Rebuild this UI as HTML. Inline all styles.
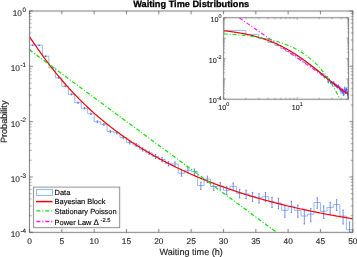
<!DOCTYPE html>
<html><head><meta charset="utf-8"><style>
html,body{margin:0;padding:0;background:#fff;width:357px;height:257px;overflow:hidden;position:relative;}
text{font-family:"Liberation Sans",sans-serif;text-rendering:geometricPrecision;}
svg{will-change:transform;}
</style></head><body>
<svg width="357" height="257" viewBox="0 0 357 257" style="position:absolute;left:0;top:0">
<defs><filter id="bl" filterUnits="userSpaceOnUse" x="0" y="0" width="357" height="257"><feConvolveMatrix order="3" kernelMatrix="0.0049 0.0602 0.0049 0.0602 0.7396 0.0602 0.0049 0.0602 0.0049" edgeMode="duplicate" preserveAlpha="false"/></filter><clipPath id="cm"><rect x="29.5" y="11.0" width="323.3" height="221.3"/></clipPath>
<clipPath id="ci"><rect x="223.7" y="17.8" width="124.80000000000001" height="81.4"/></clipPath></defs>
<g>
<g clip-path="url(#cm)"><path d="M29.50,45.20 L35.97,45.20 L35.97,45.20 L42.43,45.20 L42.43,56.20 L48.90,56.20 L48.90,67.90 L55.36,67.90 L55.36,77.90 L61.83,77.90 L61.83,86.30 L68.30,86.30 L68.30,94.40 L74.76,94.40 L74.76,102.70 L81.23,102.70 L81.23,108.30 L87.69,108.30 L87.69,113.80 L94.16,113.80 L94.16,121.80 L100.63,121.80 L100.63,124.40 L107.09,124.40 L107.09,131.60 L113.56,131.60 L113.56,132.80 L120.02,132.80 L120.02,137.50 L126.49,137.50 L126.49,142.50 L132.96,142.50 L132.96,145.00 L139.42,145.00 L139.42,149.30 L145.89,149.30 L145.89,152.80 L152.35,152.80 L152.35,156.50 L158.82,156.50 L158.82,159.50 L165.29,159.50 L165.29,163.60 L171.75,163.60 L171.75,164.00 L178.22,164.00 L178.22,173.20 L184.68,173.20 L184.68,170.20 L191.15,170.20 L191.15,171.50 L197.62,171.50 L197.62,185.60 L204.08,185.60 L204.08,179.10 L210.55,179.10 L210.55,186.50 L217.01,186.50 L217.01,186.00 L223.48,186.00 L223.48,190.30 L229.95,190.30 L229.95,186.30 L236.41,186.30 L236.41,193.30 L242.88,193.30 L242.88,194.00 L249.34,194.00 L249.34,196.50 L255.81,196.50 L255.81,198.00 L262.28,198.00 L262.28,196.60 L268.74,196.60 L268.74,201.90 L275.21,201.90 L275.21,203.00 L281.67,203.00 L281.67,210.40 L288.14,210.40 L288.14,206.20 L294.61,206.20 L294.61,210.40 L301.07,210.40 L301.07,216.00 L307.54,216.00 L307.54,214.20 L314.00,214.20 L314.00,202.50 L320.47,202.50 L320.47,211.30 L326.94,211.30 L326.94,207.40 L333.40,207.40 L333.40,204.50 L339.87,204.50 L339.87,216.10 L346.33,216.10 L346.33,229.70 L352.80,229.70" fill="none" stroke="#82b6e6" stroke-width="0.9"/><path d="M32.73,45.01 V45.39 M32.03,45.01 H33.43 M32.03,45.39 H33.43 M39.20,45.01 V45.39 M38.50,45.01 H39.90 M38.50,45.39 H39.90 M45.66,55.96 V56.44 M44.96,55.96 H46.37 M44.96,56.44 H46.37 M52.13,67.59 V68.21 M51.43,67.59 H52.83 M51.43,68.21 H52.83 M58.60,77.52 V78.29 M57.90,77.52 H59.30 M57.90,78.29 H59.30 M65.06,85.85 V86.76 M64.36,85.85 H65.76 M64.36,86.76 H65.76 M71.53,93.87 V94.94 M70.83,93.87 H72.23 M70.83,94.94 H72.23 M78.00,102.07 V103.35 M77.30,102.07 H78.70 M77.30,103.35 H78.70 M84.46,107.59 V109.03 M83.76,107.59 H85.16 M83.76,109.03 H85.16 M90.93,113.01 V114.62 M90.23,113.01 H91.63 M90.23,114.62 H91.63 M97.39,120.87 V122.77 M96.69,120.87 H98.09 M96.69,122.77 H98.09 M103.86,123.41 V125.43 M103.16,123.41 H104.56 M103.16,125.43 H104.56 M110.33,130.46 V132.80 M109.62,130.46 H111.03 M109.62,132.80 H111.03 M116.79,131.63 V134.03 M116.09,131.63 H117.49 M116.09,134.03 H117.49 M123.26,136.21 V138.86 M122.56,136.21 H123.96 M122.56,138.86 H123.96 M129.72,141.08 V144.01 M129.02,141.08 H130.42 M129.02,144.01 H130.42 M136.19,143.50 V146.60 M135.49,143.50 H136.89 M135.49,146.60 H136.89 M142.66,147.67 V151.05 M141.96,147.67 H143.35 M141.96,151.05 H143.35 M149.12,151.05 V154.69 M148.42,151.05 H149.82 M148.42,154.69 H149.82 M155.59,154.61 V158.55 M154.89,154.61 H156.29 M154.89,158.55 H156.29 M162.05,157.50 V161.68 M161.35,157.50 H162.75 M161.35,161.68 H162.75 M168.52,161.43 V165.99 M167.82,161.43 H169.22 M167.82,165.99 H169.22 M174.99,161.81 V166.41 M174.29,161.81 H175.69 M174.29,166.41 H175.69 M181.45,170.57 V176.15 M180.75,170.57 H182.15 M180.75,176.15 H182.15 M187.92,167.72 V172.96 M187.22,167.72 H188.62 M187.22,172.96 H188.62 M194.38,168.96 V174.34 M193.68,168.96 H195.08 M193.68,174.34 H195.08 M200.85,182.25 V189.49 M200.15,182.25 H201.55 M200.15,189.49 H201.55 M207.31,176.15 V182.46 M206.62,176.15 H208.01 M206.62,182.46 H208.01 M213.78,183.09 V190.47 M213.08,183.09 H214.48 M213.08,190.47 H214.48 M220.25,182.62 V189.93 M219.55,182.62 H220.95 M219.55,189.93 H220.95 M226.71,186.63 V194.63 M226.01,186.63 H227.41 M226.01,194.63 H227.41 M233.18,182.90 V190.25 M232.48,182.90 H233.88 M232.48,190.25 H233.88 M239.65,189.41 V197.94 M238.95,189.41 H240.34 M238.95,197.94 H240.34 M246.11,190.06 V198.71 M245.41,190.06 H246.81 M245.41,198.71 H246.81 M252.58,192.37 V201.49 M251.88,192.37 H253.28 M251.88,201.49 H253.28 M259.04,193.75 V203.17 M258.34,193.75 H259.74 M258.34,203.17 H259.74 M265.51,192.46 V201.61 M264.81,192.46 H266.21 M264.81,201.61 H266.21 M271.98,197.32 V207.56 M271.28,197.32 H272.68 M271.28,207.56 H272.68 M278.44,198.32 V208.81 M277.74,198.32 H279.14 M277.74,208.81 H279.14 M284.91,205.03 V217.33 M284.21,205.03 H285.61 M284.21,217.33 H285.61 M291.37,201.23 V212.47 M290.67,201.23 H292.07 M290.67,212.47 H292.07 M297.84,205.03 V217.33 M297.14,205.03 H298.54 M297.14,217.33 H298.54 M304.31,210.04 V223.95 M303.61,210.04 H305.00 M303.61,223.95 H305.00 M310.77,208.43 V221.80 M310.07,208.43 H311.47 M310.07,221.80 H311.47 M317.24,197.87 V208.24 M316.54,197.87 H317.94 M316.54,208.24 H317.94 M323.70,205.84 V218.38 M323.00,205.84 H324.40 M323.00,218.38 H324.40 M330.17,202.32 V213.85 M329.47,202.32 H330.87 M329.47,213.85 H330.87 M336.63,199.69 V210.52 M335.94,199.69 H337.33 M335.94,210.52 H337.33 M343.10,210.13 V224.07 M342.40,210.13 H343.80 M342.40,224.07 H343.80 M349.57,222.06 V240.97 M348.87,222.06 H350.27 M348.87,240.97 H350.27" fill="none" stroke="#4a5cf4" stroke-width="0.7"/><path d="M29.50,36.61 L30.58,38.23 L31.66,39.85 L32.74,41.45 L33.83,43.05 L34.91,44.63 L35.99,46.21 L37.07,47.77 L38.15,49.32 L39.23,50.86 L40.31,52.39 L41.39,53.90 L42.48,55.41 L43.56,56.90 L44.64,58.37 L45.72,59.84 L46.80,61.29 L47.88,62.73 L48.96,64.15 L50.04,65.57 L51.13,66.96 L52.21,68.35 L53.29,69.72 L54.37,71.08 L55.45,72.43 L56.53,73.77 L57.61,75.09 L58.69,76.40 L59.78,77.70 L60.86,78.98 L61.94,80.25 L63.02,81.51 L64.10,82.76 L65.18,84.00 L66.26,85.23 L67.34,86.44 L68.43,87.64 L69.51,88.83 L70.59,90.01 L71.67,91.18 L72.75,92.34 L73.83,93.48 L74.91,94.62 L75.99,95.75 L77.08,96.86 L78.16,97.97 L79.24,99.06 L80.32,100.14 L81.40,101.22 L82.48,102.28 L83.56,103.34 L84.64,104.38 L85.73,105.42 L86.81,106.45 L87.89,107.46 L88.97,108.47 L90.05,109.47 L91.13,110.46 L92.21,111.44 L93.29,112.41 L94.38,113.38 L95.46,114.33 L96.54,115.28 L97.62,116.22 L98.70,117.15 L99.78,118.07 L100.86,118.98 L101.95,119.89 L103.03,120.79 L104.11,121.68 L105.19,122.56 L106.27,123.44 L107.35,124.30 L108.43,125.16 L109.51,126.02 L110.60,126.86 L111.68,127.70 L112.76,128.53 L113.84,129.36 L114.92,130.18 L116.00,130.99 L117.08,131.79 L118.16,132.59 L119.25,133.38 L120.33,134.17 L121.41,134.94 L122.49,135.71 L123.57,136.48 L124.65,137.24 L125.73,137.99 L126.81,138.74 L127.90,139.48 L128.98,140.22 L130.06,140.94 L131.14,141.67 L132.22,142.39 L133.30,143.10 L134.38,143.80 L135.46,144.50 L136.55,145.20 L137.63,145.89 L138.71,146.57 L139.79,147.25 L140.87,147.93 L141.95,148.59 L143.03,149.26 L144.11,149.91 L145.20,150.57 L146.28,151.22 L147.36,151.86 L148.44,152.50 L149.52,153.13 L150.60,153.76 L151.68,154.38 L152.76,155.00 L153.85,155.61 L154.93,156.22 L156.01,156.83 L157.09,157.43 L158.17,158.02 L159.25,158.61 L160.33,159.20 L161.42,159.78 L162.50,160.36 L163.58,160.94 L164.66,161.51 L165.74,162.07 L166.82,162.63 L167.90,163.19 L168.98,163.74 L170.07,164.29 L171.15,164.84 L172.23,165.38 L173.31,165.91 L174.39,166.45 L175.47,166.98 L176.55,167.50 L177.63,168.02 L178.72,168.54 L179.80,169.05 L180.88,169.56 L181.96,170.07 L183.04,170.57 L184.12,171.07 L185.20,171.57 L186.28,172.06 L187.37,172.55 L188.45,173.04 L189.53,173.52 L190.61,174.00 L191.69,174.47 L192.77,174.94 L193.85,175.41 L194.93,175.88 L196.02,176.34 L197.10,176.80 L198.18,177.25 L199.26,177.71 L200.34,178.15 L201.42,178.60 L202.50,179.04 L203.58,179.48 L204.67,179.92 L205.75,180.35 L206.83,180.78 L207.91,181.21 L208.99,181.64 L210.07,182.06 L211.15,182.48 L212.23,182.89 L213.32,183.30 L214.40,183.72 L215.48,184.12 L216.56,184.53 L217.64,184.93 L218.72,185.33 L219.80,185.72 L220.88,186.12 L221.97,186.51 L223.05,186.90 L224.13,187.28 L225.21,187.67 L226.29,188.05 L227.37,188.42 L228.45,188.80 L229.54,189.17 L230.62,189.54 L231.70,189.91 L232.78,190.28 L233.86,190.64 L234.94,191.00 L236.02,191.36 L237.10,191.71 L238.19,192.06 L239.27,192.42 L240.35,192.76 L241.43,193.11 L242.51,193.45 L243.59,193.79 L244.67,194.13 L245.75,194.47 L246.84,194.80 L247.92,195.14 L249.00,195.47 L250.08,195.79 L251.16,196.12 L252.24,196.44 L253.32,196.77 L254.40,197.08 L255.49,197.40 L256.57,197.72 L257.65,198.03 L258.73,198.34 L259.81,198.65 L260.89,198.96 L261.97,199.26 L263.05,199.56 L264.14,199.86 L265.22,200.16 L266.30,200.46 L267.38,200.75 L268.46,201.04 L269.54,201.34 L270.62,201.62 L271.70,201.91 L272.79,202.20 L273.87,202.48 L274.95,202.76 L276.03,203.04 L277.11,203.32 L278.19,203.59 L279.27,203.87 L280.35,204.14 L281.44,204.41 L282.52,204.68 L283.60,204.94 L284.68,205.21 L285.76,205.47 L286.84,205.73 L287.92,205.99 L289.01,206.25 L290.09,206.51 L291.17,206.76 L292.25,207.01 L293.33,207.26 L294.41,207.51 L295.49,207.76 L296.57,208.01 L297.66,208.25 L298.74,208.49 L299.82,208.74 L300.90,208.97 L301.98,209.21 L303.06,209.45 L304.14,209.68 L305.22,209.92 L306.31,210.15 L307.39,210.38 L308.47,210.61 L309.55,210.83 L310.63,211.06 L311.71,211.28 L312.79,211.51 L313.87,211.73 L314.96,211.95 L316.04,212.17 L317.12,212.38 L318.20,212.60 L319.28,212.81 L320.36,213.02 L321.44,213.23 L322.52,213.44 L323.61,213.65 L324.69,213.86 L325.77,214.06 L326.85,214.27 L327.93,214.47 L329.01,214.67 L330.09,214.87 L331.17,215.07 L332.26,215.27 L333.34,215.46 L334.42,215.66 L335.50,215.85 L336.58,216.04 L337.66,216.23 L338.74,216.42 L339.82,216.61 L340.91,216.79 L341.99,216.98 L343.07,217.16 L344.15,217.35 L345.23,217.53 L346.31,217.71 L347.39,217.89 L348.47,218.07 L349.56,218.24 L350.64,218.42 L351.72,218.59 L352.80,218.76" fill="none" stroke="#ff0000" stroke-width="1.2"/><path d="M29.50,49.89 L352.80,288.62" fill="none" stroke="#12e012" stroke-width="1.25" stroke-dasharray="4 1.95 1 1.93" stroke-dashoffset="0.26"/></g>
<path filter="url(#bl)" d="M29.50,232.30 V229.00 M29.50,11.00 V14.30 M61.83,232.30 V229.00 M61.83,11.00 V14.30 M94.16,232.30 V229.00 M94.16,11.00 V14.30 M126.49,232.30 V229.00 M126.49,11.00 V14.30 M158.82,232.30 V229.00 M158.82,11.00 V14.30 M191.15,232.30 V229.00 M191.15,11.00 V14.30 M223.48,232.30 V229.00 M223.48,11.00 V14.30 M255.81,232.30 V229.00 M255.81,11.00 V14.30 M288.14,232.30 V229.00 M288.14,11.00 V14.30 M320.47,232.30 V229.00 M320.47,11.00 V14.30 M352.80,232.30 V229.00 M352.80,11.00 V14.30 M29.50,11.00 H32.80 M352.80,11.00 H349.50 M29.50,66.33 H32.80 M352.80,66.33 H349.50 M29.50,121.65 H32.80 M352.80,121.65 H349.50 M29.50,176.98 H32.80 M352.80,176.98 H349.50 M29.50,232.30 H32.80 M352.80,232.30 H349.50" fill="none" stroke="#5a5a5a" stroke-width="0.8"/>
<path filter="url(#bl)" d="M29.50,49.67 H31.50 M352.80,49.67 H350.80 M29.50,39.93 H31.50 M352.80,39.93 H350.80 M29.50,33.02 H31.50 M352.80,33.02 H350.80 M29.50,27.65 H31.50 M352.80,27.65 H350.80 M29.50,23.27 H31.50 M352.80,23.27 H350.80 M29.50,19.57 H31.50 M352.80,19.57 H350.80 M29.50,16.36 H31.50 M352.80,16.36 H350.80 M29.50,13.53 H31.50 M352.80,13.53 H350.80 M29.50,105.00 H31.50 M352.80,105.00 H350.80 M29.50,95.25 H31.50 M352.80,95.25 H350.80 M29.50,88.34 H31.50 M352.80,88.34 H350.80 M29.50,82.98 H31.50 M352.80,82.98 H350.80 M29.50,78.60 H31.50 M352.80,78.60 H350.80 M29.50,74.89 H31.50 M352.80,74.89 H350.80 M29.50,71.69 H31.50 M352.80,71.69 H350.80 M29.50,68.86 H31.50 M352.80,68.86 H350.80 M29.50,160.32 H31.50 M352.80,160.32 H350.80 M29.50,150.58 H31.50 M352.80,150.58 H350.80 M29.50,143.67 H31.50 M352.80,143.67 H350.80 M29.50,138.30 H31.50 M352.80,138.30 H350.80 M29.50,133.92 H31.50 M352.80,133.92 H350.80 M29.50,130.22 H31.50 M352.80,130.22 H350.80 M29.50,127.01 H31.50 M352.80,127.01 H350.80 M29.50,124.18 H31.50 M352.80,124.18 H350.80 M29.50,215.65 H31.50 M352.80,215.65 H350.80 M29.50,205.90 H31.50 M352.80,205.90 H350.80 M29.50,198.99 H31.50 M352.80,198.99 H350.80 M29.50,193.63 H31.50 M352.80,193.63 H350.80 M29.50,189.25 H31.50 M352.80,189.25 H350.80 M29.50,185.54 H31.50 M352.80,185.54 H350.80 M29.50,182.34 H31.50 M352.80,182.34 H350.80 M29.50,179.51 H31.50 M352.80,179.51 H350.80" fill="none" stroke="#5a5a5a" stroke-width="0.6"/>
<rect filter="url(#bl)" x="29.5" y="11.0" width="323.30" height="221.30" fill="none" stroke="#5a5a5a" stroke-width="0.8"/>
<rect x="33.6" y="187.1" width="86.10" height="40.60" fill="#fff"/><rect filter="url(#bl)" x="33.6" y="187.1" width="86.10" height="40.60" fill="none" stroke="#6e6e6e" stroke-width="0.8"/><rect x="36.5" y="189.6" width="16" height="5.8" fill="#fcfeff" stroke="#82b6e6" stroke-width="0.9"/><path d="M36,201.6 H52.5" stroke="#ff0000" stroke-width="1.5"/><path d="M36.4,210.8 H52.5" stroke="#12e012" stroke-width="1.3" stroke-dasharray="4 1.95 1 1.93"/><path d="M36.4,221.5 H52.5" stroke="#ff10ff" stroke-width="1.3" stroke-dasharray="4 1.95 1 1.93"/>
<rect x="223.7" y="17.8" width="124.80" height="81.40" fill="#fff"/><g clip-path="url(#ci)"><path d="M223.70,30.38 L245.81,30.38 L245.81,34.43 L258.75,34.43 L258.75,38.73 L267.93,38.73 L267.93,42.41 L275.04,42.41 L275.04,45.50 L280.86,45.50 L280.86,48.48 L285.78,48.48 L285.78,51.53 L290.04,51.53 L290.04,53.59 L293.80,53.59 L293.80,55.61 L297.16,55.61 L297.16,58.56 L300.20,58.56 L300.20,59.51 L302.97,59.51 L302.97,62.16 L305.53,62.16 L305.53,62.60 L307.89,62.60 L307.89,64.33 L310.09,64.33 L310.09,66.17 L312.15,66.17 L312.15,67.09 L314.08,67.09 L314.08,68.67 L315.91,68.67 L315.91,69.96 L317.63,69.96 L317.63,71.32 L319.27,71.32 L319.27,72.42 L320.83,72.42 L320.83,73.93 L322.31,73.93 L322.31,74.08 L323.73,74.08 L323.73,77.46 L325.09,77.46 L325.09,76.36 L326.39,76.36 L326.39,76.84 L327.64,76.84 L327.64,82.02 L328.84,82.02 L328.84,79.63 L330.00,79.63 L330.00,82.35 L331.12,82.35 L331.12,82.17 L332.20,82.17 L332.20,83.75 L333.25,83.75 L333.25,82.28 L334.26,82.28 L334.26,84.85 L335.24,84.85 L335.24,85.11 L336.20,85.11 L336.20,86.03 L337.12,86.03 L337.12,86.58 L338.02,86.58 L338.02,86.07 L338.89,86.07 L338.89,88.02 L339.75,88.02 L339.75,88.42 L340.57,88.42 L340.57,91.14 L341.38,91.14 L341.38,89.60 L342.17,89.60 L342.17,91.14 L342.94,91.14 L342.94,93.20 L343.69,93.20 L343.69,92.54 L344.42,92.54 L344.42,88.24 L345.14,88.24 L345.14,91.48 L345.84,91.48 L345.84,90.04 L346.53,90.04 L346.53,88.97 L347.20,88.97 L347.20,93.24 L347.86,93.24 L347.86,98.24 L348.50,98.24" fill="none" stroke="#82b6e6" stroke-width="0.9"/><path d="M236.64,30.31 V30.45 M252.93,34.34 V34.52 M263.67,38.62 V38.84 M271.68,42.27 V42.55 M278.08,45.33 V45.67 M283.41,48.28 V48.68 M287.98,51.30 V51.77 M291.97,53.33 V53.86 M295.52,55.32 V55.91 M298.71,58.21 V58.91 M301.61,59.15 V59.89 M304.27,61.74 V62.60 M306.73,62.17 V63.05 M309.01,63.86 V64.83 M311.14,65.65 V66.73 M313.13,66.54 V67.68 M315.01,68.07 V69.31 M316.78,69.31 V70.65 M318.46,70.63 V72.07 M320.06,71.69 V73.23 M321.58,73.13 V74.81 M323.03,73.27 V74.96 M324.41,76.50 V78.55 M325.74,75.45 V77.37 M327.02,75.90 V77.88 M328.25,80.79 V83.45 M329.43,78.55 V80.87 M330.57,81.10 V83.81 M331.67,80.93 V83.61 M332.73,82.40 V85.34 M333.76,81.03 V83.73 M334.76,83.43 V86.56 M335.72,83.66 V86.85 M336.66,84.51 V87.87 M337.57,85.02 V88.49 M338.46,84.55 V87.91 M339.32,86.33 V90.10 M340.16,86.70 V90.56 M340.98,89.17 V93.69 M341.78,87.77 V91.91 M342.56,89.17 V93.69 M343.32,91.01 V96.13 M344.06,90.42 V95.34 M344.78,86.54 V90.35 M345.49,89.47 V94.08 M346.18,88.17 V92.41 M346.86,87.21 V91.19 M347.53,91.04 V96.17 M348.18,95.43 V102.39" fill="none" stroke="#4a5cf4" stroke-width="0.9"/><path d="M239.27,17.80 L348.50,93.45" fill="none" stroke="#ff10ff" stroke-width="1.1" stroke-dasharray="4 1.95 1 1.93"/><path d="M223.70,30.74 L224.33,30.81 L224.95,30.88 L225.58,30.95 L226.21,31.02 L226.84,31.09 L227.46,31.17 L228.09,31.25 L228.72,31.32 L229.34,31.40 L229.97,31.48 L230.60,31.57 L231.23,31.65 L231.85,31.74 L232.48,31.82 L233.11,31.91 L233.73,32.00 L234.36,32.10 L234.99,32.19 L235.62,32.29 L236.24,32.38 L236.87,32.48 L237.50,32.58 L238.12,32.69 L238.75,32.79 L239.38,32.90 L240.01,33.01 L240.63,33.12 L241.26,33.23 L241.89,33.35 L242.51,33.46 L243.14,33.58 L243.77,33.70 L244.40,33.83 L245.02,33.95 L245.65,34.08 L246.28,34.21 L246.90,34.34 L247.53,34.48 L248.16,34.61 L248.79,34.75 L249.41,34.89 L250.04,35.04 L250.67,35.19 L251.29,35.33 L251.92,35.49 L252.55,35.64 L253.18,35.80 L253.80,35.96 L254.43,36.12 L255.06,36.29 L255.68,36.46 L256.31,36.63 L256.94,36.80 L257.57,36.98 L258.19,37.16 L258.82,37.34 L259.45,37.53 L260.07,37.72 L260.70,37.91 L261.33,38.10 L261.96,38.30 L262.58,38.50 L263.21,38.71 L263.84,38.92 L264.46,39.13 L265.09,39.34 L265.72,39.56 L266.35,39.78 L266.97,40.01 L267.60,40.24 L268.23,40.47 L268.85,40.70 L269.48,40.94 L270.11,41.19 L270.74,41.43 L271.36,41.68 L271.99,41.94 L272.62,42.19 L273.24,42.46 L273.87,42.72 L274.50,42.99 L275.13,43.26 L275.75,43.54 L276.38,43.82 L277.01,44.10 L277.63,44.39 L278.26,44.68 L278.89,44.98 L279.52,45.28 L280.14,45.58 L280.77,45.89 L281.40,46.21 L282.02,46.52 L282.65,46.84 L283.28,47.17 L283.91,47.49 L284.53,47.83 L285.16,48.16 L285.79,48.50 L286.41,48.85 L287.04,49.20 L287.67,49.55 L288.29,49.91 L288.92,50.27 L289.55,50.63 L290.18,51.00 L290.80,51.38 L291.43,51.76 L292.06,52.14 L292.68,52.52 L293.31,52.91 L293.94,53.31 L294.57,53.70 L295.19,54.10 L295.82,54.51 L296.45,54.92 L297.07,55.33 L297.70,55.75 L298.33,56.17 L298.96,56.59 L299.58,57.02 L300.21,57.45 L300.84,57.89 L301.46,58.33 L302.09,58.77 L302.72,59.22 L303.35,59.67 L303.97,60.12 L304.60,60.58 L305.23,61.04 L305.85,61.50 L306.48,61.97 L307.11,62.43 L307.74,62.91 L308.36,63.38 L308.99,63.86 L309.62,64.34 L310.24,64.82 L310.87,65.31 L311.50,65.80 L312.13,66.29 L312.75,66.78 L313.38,67.27 L314.01,67.77 L314.63,68.27 L315.26,68.77 L315.89,69.27 L316.52,69.78 L317.14,70.28 L317.77,70.79 L318.40,71.30 L319.02,71.81 L319.65,72.32 L320.28,72.83 L320.91,73.35 L321.53,73.86 L322.16,74.37 L322.79,74.89 L323.41,75.40 L324.04,75.92 L324.67,76.43 L325.30,76.95 L325.92,77.46 L326.55,77.98 L327.18,78.49 L327.80,79.00 L328.43,79.51 L329.06,80.02 L329.69,80.53 L330.31,81.04 L330.94,81.54 L331.57,82.05 L332.19,82.55 L332.82,83.05 L333.45,83.55 L334.08,84.04 L334.70,84.53 L335.33,85.02 L335.96,85.51 L336.58,85.99 L337.21,86.47 L337.84,86.94 L338.47,87.41 L339.09,87.88 L339.72,88.34 L340.35,88.80 L340.97,89.25 L341.60,89.70 L342.23,90.14 L342.86,90.58 L343.48,91.01 L344.11,91.43 L344.74,91.85 L345.36,92.26 L345.99,92.67 L346.62,93.07 L347.25,93.46 L347.87,93.84 L348.50,94.22" fill="none" stroke="#ff0000" stroke-width="1.2"/><path d="M223.70,33.86 L224.33,33.90 L224.95,33.93 L225.58,33.97 L226.21,34.01 L226.84,34.04 L227.46,34.08 L228.09,34.12 L228.72,34.16 L229.34,34.20 L229.97,34.24 L230.60,34.29 L231.23,34.33 L231.85,34.37 L232.48,34.42 L233.11,34.46 L233.73,34.51 L234.36,34.56 L234.99,34.61 L235.62,34.66 L236.24,34.71 L236.87,34.76 L237.50,34.81 L238.12,34.87 L238.75,34.92 L239.38,34.98 L240.01,35.03 L240.63,35.09 L241.26,35.15 L241.89,35.21 L242.51,35.27 L243.14,35.34 L243.77,35.40 L244.40,35.47 L245.02,35.53 L245.65,35.60 L246.28,35.67 L246.90,35.74 L247.53,35.81 L248.16,35.89 L248.79,35.96 L249.41,36.04 L250.04,36.12 L250.67,36.20 L251.29,36.28 L251.92,36.36 L252.55,36.44 L253.18,36.53 L253.80,36.62 L254.43,36.71 L255.06,36.80 L255.68,36.89 L256.31,36.99 L256.94,37.08 L257.57,37.18 L258.19,37.28 L258.82,37.39 L259.45,37.49 L260.07,37.60 L260.70,37.71 L261.33,37.82 L261.96,37.93 L262.58,38.05 L263.21,38.17 L263.84,38.29 L264.46,38.41 L265.09,38.53 L265.72,38.66 L266.35,38.79 L266.97,38.92 L267.60,39.06 L268.23,39.20 L268.85,39.34 L269.48,39.48 L270.11,39.63 L270.74,39.78 L271.36,39.93 L271.99,40.09 L272.62,40.24 L273.24,40.41 L273.87,40.57 L274.50,40.74 L275.13,40.91 L275.75,41.08 L276.38,41.26 L277.01,41.44 L277.63,41.63 L278.26,41.82 L278.89,42.01 L279.52,42.21 L280.14,42.41 L280.77,42.61 L281.40,42.82 L282.02,43.03 L282.65,43.25 L283.28,43.47 L283.91,43.70 L284.53,43.93 L285.16,44.16 L285.79,44.40 L286.41,44.65 L287.04,44.90 L287.67,45.15 L288.29,45.41 L288.92,45.67 L289.55,45.94 L290.18,46.22 L290.80,46.50 L291.43,46.78 L292.06,47.07 L292.68,47.37 L293.31,47.67 L293.94,47.98 L294.57,48.30 L295.19,48.62 L295.82,48.95 L296.45,49.28 L297.07,49.62 L297.70,49.97 L298.33,50.33 L298.96,50.69 L299.58,51.06 L300.21,51.43 L300.84,51.82 L301.46,52.21 L302.09,52.61 L302.72,53.01 L303.35,53.43 L303.97,53.85 L304.60,54.28 L305.23,54.72 L305.85,55.17 L306.48,55.63 L307.11,56.10 L307.74,56.57 L308.36,57.06 L308.99,57.56 L309.62,58.06 L310.24,58.58 L310.87,59.10 L311.50,59.64 L312.13,60.18 L312.75,60.74 L313.38,61.31 L314.01,61.89 L314.63,62.48 L315.26,63.08 L315.89,63.70 L316.52,64.33 L317.14,64.97 L317.77,65.62 L318.40,66.28 L319.02,66.96 L319.65,67.65 L320.28,68.36 L320.91,69.08 L321.53,69.81 L322.16,70.56 L322.79,71.33 L323.41,72.10 L324.04,72.90 L324.67,73.71 L325.30,74.53 L325.92,75.38 L326.55,76.24 L327.18,77.11 L327.80,78.01 L328.43,78.92 L329.06,79.85 L329.69,80.79 L330.31,81.76 L330.94,82.75 L331.57,83.75 L332.19,84.78 L332.82,85.82 L333.45,86.89 L334.08,87.98 L334.70,89.09 L335.33,90.22 L335.96,91.37 L336.58,92.55 L337.21,93.75 L337.84,94.97 L338.47,96.22 L339.09,97.49 L339.72,98.79 L340.35,100.11 L340.97,101.46 L341.60,102.84 L342.23,104.25 L342.86,105.68 L343.48,107.14 L344.11,108.63 L344.74,110.15 L345.36,111.70 L345.99,113.28 L346.62,114.89 L347.25,116.53 L347.87,118.21 L348.50,119.92" fill="none" stroke="#12e012" stroke-width="1.1" stroke-dasharray="4 1.95 1 1.93"/></g><path filter="url(#bl)" d="M223.70,17.80 H225.90 M348.50,17.80 H346.30 M223.70,38.15 H225.90 M348.50,38.15 H346.30 M223.70,58.50 H225.90 M348.50,58.50 H346.30 M223.70,78.85 H225.90 M348.50,78.85 H346.30 M223.70,99.20 H225.90 M348.50,99.20 H346.30 M223.70,32.02 H225.00 M348.50,32.02 H347.20 M223.70,28.44 H225.00 M348.50,28.44 H347.20 M223.70,25.90 H225.00 M348.50,25.90 H347.20 M223.70,23.93 H225.00 M348.50,23.93 H347.20 M223.70,22.31 H225.00 M348.50,22.31 H347.20 M223.70,20.95 H225.00 M348.50,20.95 H347.20 M223.70,19.77 H225.00 M348.50,19.77 H347.20 M223.70,18.73 H225.00 M348.50,18.73 H347.20 M223.70,52.37 H225.00 M348.50,52.37 H347.20 M223.70,48.79 H225.00 M348.50,48.79 H347.20 M223.70,46.25 H225.00 M348.50,46.25 H347.20 M223.70,44.28 H225.00 M348.50,44.28 H347.20 M223.70,42.66 H225.00 M348.50,42.66 H347.20 M223.70,41.30 H225.00 M348.50,41.30 H347.20 M223.70,40.12 H225.00 M348.50,40.12 H347.20 M223.70,39.08 H225.00 M348.50,39.08 H347.20 M223.70,72.72 H225.00 M348.50,72.72 H347.20 M223.70,69.14 H225.00 M348.50,69.14 H347.20 M223.70,66.60 H225.00 M348.50,66.60 H347.20 M223.70,64.63 H225.00 M348.50,64.63 H347.20 M223.70,63.01 H225.00 M348.50,63.01 H347.20 M223.70,61.65 H225.00 M348.50,61.65 H347.20 M223.70,60.47 H225.00 M348.50,60.47 H347.20 M223.70,59.43 H225.00 M348.50,59.43 H347.20 M223.70,93.07 H225.00 M348.50,93.07 H347.20 M223.70,89.49 H225.00 M348.50,89.49 H347.20 M223.70,86.95 H225.00 M348.50,86.95 H347.20 M223.70,84.98 H225.00 M348.50,84.98 H347.20 M223.70,83.36 H225.00 M348.50,83.36 H347.20 M223.70,82.00 H225.00 M348.50,82.00 H347.20 M223.70,80.82 H225.00 M348.50,80.82 H347.20 M223.70,79.78 H225.00 M348.50,79.78 H347.20 M223.70,99.20 V97.00 M223.70,17.80 V20.00 M297.16,99.20 V97.00 M297.16,17.80 V20.00 M245.81,99.20 V97.90 M245.81,17.80 V19.10 M258.75,99.20 V97.90 M258.75,17.80 V19.10 M267.93,99.20 V97.90 M267.93,17.80 V19.10 M275.04,99.20 V97.90 M275.04,17.80 V19.10 M280.86,99.20 V97.90 M280.86,17.80 V19.10 M285.78,99.20 V97.90 M285.78,17.80 V19.10 M290.04,99.20 V97.90 M290.04,17.80 V19.10 M293.80,99.20 V97.90 M293.80,17.80 V19.10 M319.27,99.20 V97.90 M319.27,17.80 V19.10 M332.20,99.20 V97.90 M332.20,17.80 V19.10 M341.38,99.20 V97.90 M341.38,17.80 V19.10" fill="none" stroke="#5a5a5a" stroke-width="0.5"/><rect filter="url(#bl)" x="223.7" y="17.8" width="124.80" height="81.40" fill="none" stroke="#5a5a5a" stroke-width="0.8"/>
</g>
<g style="stroke:#1e1e1e;stroke-width:0.15px"><g font-family="Liberation Sans, sans-serif" fill="#262626" style="stroke-width:0.12px"><text x="29.50" y="243.8" text-anchor="middle" font-size="8.3">0</text><text x="61.83" y="243.8" text-anchor="middle" font-size="8.3">5</text><text x="94.16" y="243.8" text-anchor="middle" font-size="8.3">10</text><text x="126.49" y="243.8" text-anchor="middle" font-size="8.3">15</text><text x="158.82" y="243.8" text-anchor="middle" font-size="8.3">20</text><text x="191.15" y="243.8" text-anchor="middle" font-size="8.3">25</text><text x="223.48" y="243.8" text-anchor="middle" font-size="8.3">30</text><text x="255.81" y="243.8" text-anchor="middle" font-size="8.3">35</text><text x="288.14" y="243.8" text-anchor="middle" font-size="8.3">40</text><text x="320.47" y="243.8" text-anchor="middle" font-size="8.3">45</text><text x="352.80" y="243.8" text-anchor="middle" font-size="8.3">50</text><text x="26.0" y="15.90" text-anchor="end" font-size="8.3">10<tspan font-size="6.3" dx="0.5" dy="-4.3">0</tspan></text><text x="26.0" y="71.23" text-anchor="end" font-size="8.3">10<tspan font-size="6.3" dx="0.5" dy="-4.3">-1</tspan></text><text x="26.0" y="126.55" text-anchor="end" font-size="8.3">10<tspan font-size="6.3" dx="0.5" dy="-4.3">-2</tspan></text><text x="26.0" y="181.88" text-anchor="end" font-size="8.3">10<tspan font-size="6.3" dx="0.5" dy="-4.3">-3</tspan></text><text x="26.0" y="237.20" text-anchor="end" font-size="8.3">10<tspan font-size="6.3" dx="0.5" dy="-4.3">-4</tspan></text></g><text x="191.2" y="254.6" text-anchor="middle" font-size="9.1" font-family="Liberation Sans, sans-serif" fill="#262626">Waiting time (h)</text><text transform="translate(6.5,121.8) rotate(-90)" text-anchor="middle" font-size="9.1" font-family="Liberation Sans, sans-serif" fill="#262626">Probability</text><text x="191.2" y="6.5" text-anchor="middle" font-size="9.2" font-weight="bold" style="stroke:#000;stroke-width:0.3px" font-family="Liberation Sans, sans-serif" fill="#000">Waiting Time Distributions</text><g font-family="Liberation Sans, sans-serif" font-size="7.45" fill="#000"><text x="54.6" y="195.4">Data</text><text x="54.6" y="203.9">Bayesian Block</text><text x="54.6" y="213.7">Stationary Poisson</text><text x="54.6" y="225.3">Power Law <tspan font-size="8.1">Δ</tspan><tspan font-size="5.8" dx="1.7" dy="-3.6">-2.5</tspan></text></g><g font-family="Liberation Sans, sans-serif" fill="#262626" style="stroke-width:0.12px"><text x="221.50" y="21.80" text-anchor="end" font-size="7.2">10<tspan font-size="5.4" dy="-3.4">0</tspan></text><text x="221.50" y="62.50" text-anchor="end" font-size="7.2">10<tspan font-size="5.4" dy="-3.4">-2</tspan></text><text x="221.50" y="103.20" text-anchor="end" font-size="7.2">10<tspan font-size="5.4" dy="-3.4">-4</tspan></text><text x="223.70" y="109.50" text-anchor="middle" font-size="7.2">10<tspan font-size="5.4" dy="-3.4">0</tspan></text><text x="297.16" y="109.50" text-anchor="middle" font-size="7.2">10<tspan font-size="5.4" dy="-3.4">1</tspan></text></g></g>
</svg>
</body></html>
